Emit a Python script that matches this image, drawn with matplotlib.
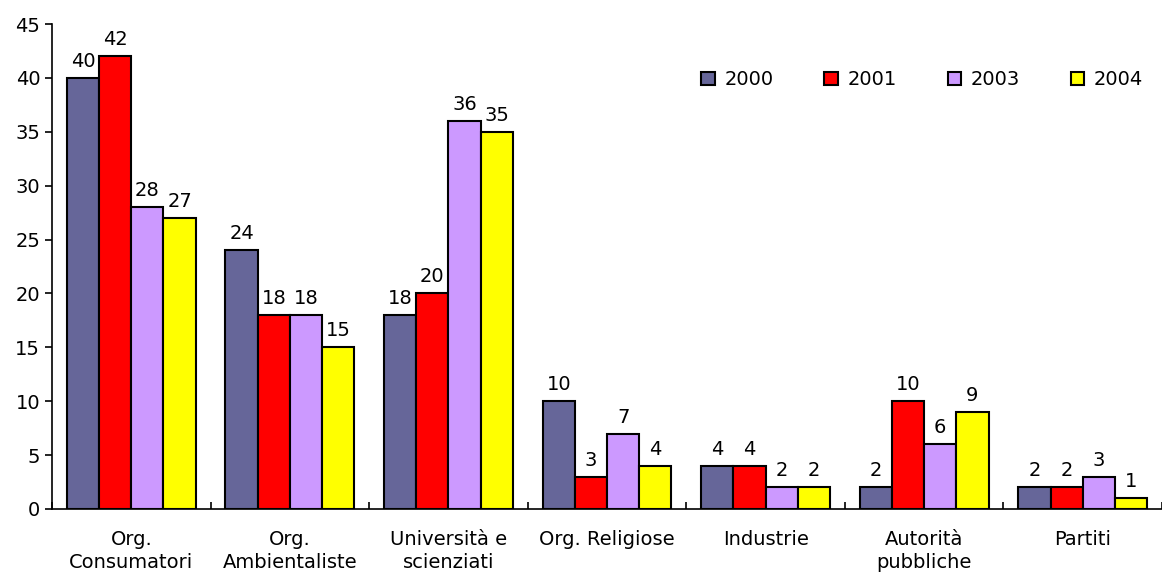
import numpy as np
import matplotlib
matplotlib.use('Agg')
import matplotlib.pyplot as plt

# Dati
categorie = ['Org.\nConsumatori', 'Org.\nAmbientaliste', 'Università e\nscienziati',
             'Org. Religiose', 'Industrie', 'Autorità\npubbliche', 'Partiti']
anni = ['2000', '2001', '2003', '2004']
v2000 = [40, 24, 18, 10, 4, 2, 2]
v2001 = [42, 18, 20, 3, 4, 10, 2]
v2003 = [28, 18, 36, 7, 2, 6, 3]
v2004 = [27, 15, 35, 4, 2, 9, 1]
colori = ['#666699', '#FF0000', '#CC99FF', '#FFFF00']

plt.rcParams['font.family'] = ['DejaVu Sans']
plt.rcParams['font.size'] = 14

fig = plt.figure(figsize=(11.62, 5.77), dpi=100)
ax = fig.add_axes([52 / 1162, 1 - 509 / 577, 1110 / 1162, 485 / 577])

x = np.arange(len(categorie))
w = 0.203
serie = [v2000, v2001, v2003, v2004]
for i, (vals, anno, col) in enumerate(zip(serie, anni, colori)):
    pos = x + (i - 1.5) * w
    bars = ax.bar(pos, vals, w, color=col, edgecolor='black', linewidth=1.5, label=anno)
    for b, v in zip(bars, vals):
        ax.annotate(str(v), (b.get_x() + b.get_width() / 2, v), xytext=(0, 5),
                    textcoords='offset points', ha='center', va='bottom')

ax.set_xlim(-0.5, -0.5 + 1110 / 159)
ax.set_ylim(0, 45)
ax.set_yticks(range(0, 46, 5))
ax.set_xticks(np.arange(-0.5, len(categorie), 1))
ax.set_xticklabels([])
ax.set_xticks(x, minor=True)
ax.set_xticklabels(categorie, minor=True, linespacing=1.3)
ax.tick_params(axis='x', which='minor', length=0, pad=15)
ax.tick_params(axis='x', which='major', length=5, width=1.2, direction='in')
ax.tick_params(axis='y', length=5, width=1.2, direction='out')
ax.spines['top'].set_visible(False)
ax.spines['right'].set_visible(False)
ax.spines['left'].set_linewidth(1.2)
ax.spines['bottom'].set_linewidth(1.2)

ax.legend(loc='center left', bbox_to_anchor=(0.585, 0.885), ncol=4, frameon=False,
          borderaxespad=0, borderpad=0,
          handlelength=0.7, handleheight=0.7, handletextpad=0.5, columnspacing=2.6)

plt.savefig('out.png', dpi=100)
